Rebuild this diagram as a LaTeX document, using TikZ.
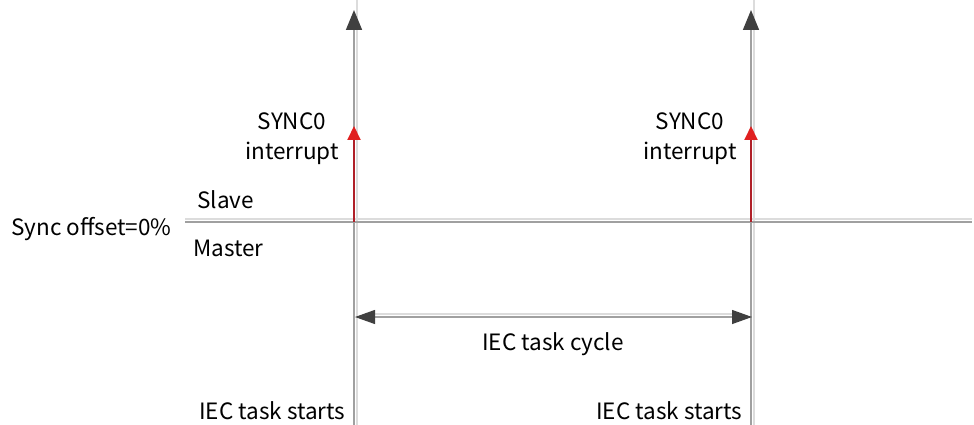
\documentclass[tikz,border=0pt]{standalone}
\usepackage{fontspec}
\setmainfont{Noto Sans CJK SC}
\usetikzlibrary{arrows.meta}
\definecolor{linegray}{HTML}{A0A0A0}
\definecolor{lightline}{HTML}{DCDCDC}
\definecolor{headgray}{HTML}{404040}
\definecolor{redline}{HTML}{B02028}
\definecolor{redhead}{HTML}{E02020}
\tikzset{
  lbl/.style={font=\fontsize{22.5}{29}\selectfont, text=black, inner sep=0pt},
  mainline/.style={draw=linegray, line width=1.6pt},
  shadowline/.style={draw=lightline, line width=1.3pt},
  bigtip/.style={-{Triangle[length=20pt,width=16pt,fill=headgray,color=headgray]}},
  redarrow/.style={draw=redline, line width=2pt, -{Triangle[length=14pt,width=13pt,color=redhead,fill=redhead]}},
  cyclearrow/.style={draw=linegray, line width=1.3pt, {Triangle[length=20pt,width=14pt,color=headgray,fill=headgray]}-{Triangle[length=20pt,width=14pt,color=headgray,fill=headgray]}},
}
\begin{document}
\begin{tikzpicture}[x=1pt,y=-1pt]
\useasboundingbox (0,0) rectangle (974,425);
% coordinates
\coordinate (v1top) at (354,10);
\coordinate (v1bot) at (354,425);
\coordinate (v2top) at (751,10);
\coordinate (v2bot) at (751,425);
\coordinate (hl) at (185,222);
\coordinate (hr) at (972,222);
\coordinate (r1a) at (354,222);
\coordinate (r1b) at (354,126);
\coordinate (r2a) at (751,222);
\coordinate (r2b) at (751,126);
\coordinate (c1) at (355,317);
\coordinate (c2) at (752,317);
% shadow lines
\draw[shadowline] ([xshift=3pt]v1bot) -- ([xshift=3pt,yshift=18pt]v1top);
\draw[shadowline] ([xshift=3pt]v2bot) -- ([xshift=3pt,yshift=18pt]v2top);
\draw[shadowline] ([yshift=3pt]hl) -- ([yshift=3pt]hr);
\draw[shadowline] ([xshift=12pt,yshift=3pt]c1) -- ([xshift=-12pt,yshift=3pt]c2);
% main lines
\draw[mainline] (hl) -- (hr);
\draw[mainline, bigtip] (v1bot) -- (v1top);
\draw[mainline, bigtip] (v2bot) -- (v2top);
\draw[redarrow] (r1a) -- (r1b);
\draw[redarrow] (r2a) -- (r2b);
\draw[cyclearrow] (c1) -- (c2);
% labels
\node[lbl, align=center, anchor=base] (s1) at (292,159) {SYNC0\\interrupt};
\node[lbl, align=center, anchor=base] (s2) at (690,159) {SYNC0\\interrupt};
\node[lbl, anchor=west] (slave) at (197,200) {Slave};
\node[lbl, anchor=west] (master) at (193,248) {Master};
\node[lbl, anchor=west] (sync) at (11,229) {Sync offset=0\%};
\node[lbl] (cycle) at (553,344) {IEC task cycle};
\node[lbl, anchor=west] (st1) at (199,411) {IEC task starts};
\node[lbl, anchor=west] (st2) at (596,411) {IEC task starts};
\end{tikzpicture}
\end{document}
